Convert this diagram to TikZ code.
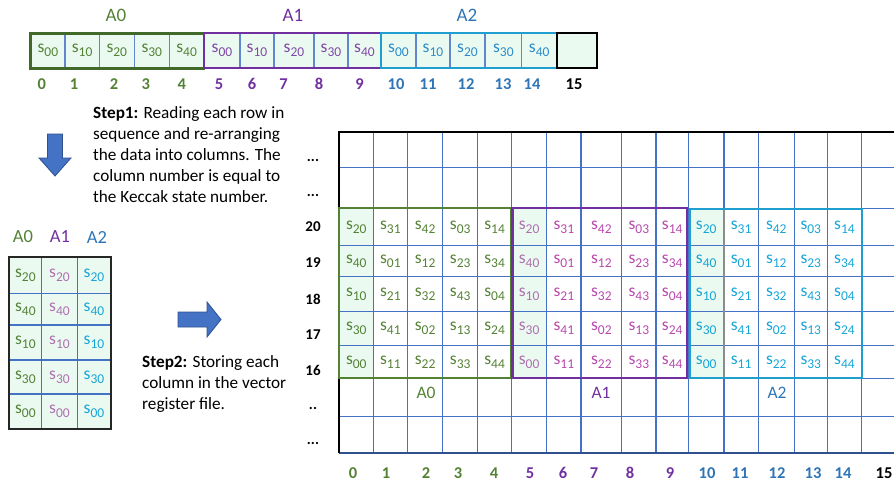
\documentclass[tikz,border=0pt]{standalone}
\usepackage{fontspec}
\setmainfont{Carlito}

\definecolor{agreen}{HTML}{548235}
\definecolor{agreenB}{HTML}{40692A}
\definecolor{apurple}{HTML}{7030A0}
\definecolor{amag}{HTML}{B848AE}
\definecolor{alilac}{HTML}{AE70AE}
\definecolor{tpurple}{HTML}{8048A8}
\definecolor{acyan}{HTML}{17A5D8}
\definecolor{tblue}{HTML}{2B8CCB}
\definecolor{ablue}{HTML}{2E75B6}
\definecolor{acyanB}{HTML}{1F9FCF}
\definecolor{gridblue}{HTML}{4472C4}
\definecolor{cellfill}{HTML}{EBFAF1}
\definecolor{arrowfill}{HTML}{4472C4}
\definecolor{arrowline}{HTML}{2F528F}

% state word s_{xy}: letter with lowered index
\newcommand\sv[1]{s\raisebox{-3.8pt}{\fontsize{13.5}{14}\selectfont #1}}

\begin{document}
\begin{tikzpicture}[x=1pt,y=-1pt,
  lbl/.style={inner sep=0pt, font=\fontsize{19}{22}\selectfont},
  glbl/.style={inner sep=0pt, font=\fontsize{17.5}{20}\selectfont},
  num/.style={inner sep=0pt, font=\fontsize{16.5}{18}\selectfont\bfseries},
  rnum/.style={inner sep=0pt, font=\fontsize{15}{18}\selectfont\bfseries},
  cellt/.style={inner sep=0pt, font=\fontsize{17.5}{19}\selectfont},
  para/.style={inner sep=0pt, align=left, anchor=north west,
               font=\fontsize{17.2}{21}\selectfont},
  gline/.style={draw=gridblue, line width=1.3pt},
  blockarrow/.style={fill=arrowfill, draw=arrowline, line width=0.8pt}]
\useasboundingbox (0,0) rectangle (894,485);

% ---------------- register row at the top ----------------
\fill[cellfill] (30.7,33.3) rectangle (596.7,68.3);
\foreach \xx in {65,99.3,134.3,169.3,240,274,314,348,416,450,485,521.7}
  \draw[draw=gridblue!85!white, line width=1.2pt] (\xx,33.3) -- (\xx,68.3);
\draw[draw=agreenB, line width=2.5pt] (30.7,33.3) rectangle (204,68.3);
\draw[draw=apurple, line width=2.2pt] (204,33.3) rectangle (381,68.3);
\draw[draw=acyanB, line width=2.2pt] (381,33.3) rectangle (556.7,68.3);
\draw[draw=black, line width=1.8pt] (556.7,33.3) rectangle (596.7,68.3);

\foreach \i/\a/\b/\v/\col in {0/30.7/65/00/agreen,1/65/99.3/10/agreen,2/99.3/134.3/20/agreen,
    3/134.3/169.3/30/agreen,4/169.3/204/40/agreen,
    5/204/240/00/tpurple,6/240/274/10/tpurple,7/274/314/20/tpurple,
    8/314/348/30/tpurple,9/348/381/40/tpurple,
    10/381/416/00/tblue,11/416/450/10/tblue,12/450/485/20/tblue,
    13/485/521.7/30/tblue,14/521.7/556.7/40/tblue}{
  \pgfmathsetmacro\xc{(\a+\b)/2}
  \node[cellt, text=\col] (top-\i) at (\xc,50.5) {\sv{\v}};
}

\node[lbl, text=agreen]  (topA0) at (116,15) {A0};
\node[lbl, text=apurple] (topA1) at (293,15) {A1};
\node[lbl, text=ablue]   (topA2) at (467,15) {A2};

\foreach \n/\xx/\col in {0/41.7/agreen,1/74/agreen,2/114/agreen,3/145.7/agreen,4/181.7/agreen,
    5/219/apurple,6/252/apurple,7/283.5/apurple,8/319/apurple,9/359.6/apurple,
    10/396/ablue,11/428/ablue,12/466/ablue,13/503/ablue,14/532/ablue,15/574/black}
  \node[num, text=\col] (tnum-\n) at (\xx,84) {\n};

% ---------------- step 1: arrow and text ----------------
\draw[blockarrow] (47.5,134) -- (62.5,134) -- (62.5,158) -- (71,158) -- (55,176)
  -- (39,158) -- (47.5,158) -- cycle;
\node[para] (step1) at (93,106) {\textbf{Step1:} Reading each row in\\
  sequence and re-arranging\\the data into columns. The\\
  column number is equal to\\the Keccak state number.};

% ---------------- small column table ----------------
\fill[cellfill] (9,256.7) rectangle (110.7,429);
\foreach \y in {293.3,325,360,394} \draw[gline] (9,\y) -- (110.7,\y);
\foreach \x in {41.7,77.3} \draw[gline] (\x,256.7) -- (\x,429);
\draw[draw=black!85, line width=1.8pt] (9,256.7) rectangle (110.7,429);

\node[lbl, text=agreen, font=\fontsize{18.5}{20}\selectfont]  (lA0) at (23,237) {A0};
\node[lbl, text=apurple, font=\fontsize{18.5}{20}\selectfont] (lA1) at (60,237) {A1};
\node[lbl, text=ablue, font=\fontsize{18.5}{20}\selectfont]   (lA2) at (97,237) {A2};

\foreach \c/\a/\b/\col in {0/9/41.7/agreen,1/41.7/77.3/alilac,2/77.3/110.7/acyan}
  \foreach \r/\ya/\yb/\v in {0/256.7/293.3/20,1/293.3/325/40,2/325/360/10,
      3/360/394/30,4/394/429/00}{
    \pgfmathsetmacro\xc{(\a+\b)/2}
    \pgfmathsetmacro\yc{(\ya+\yb)/2}
    \node[cellt, text=\col] (lt-\c-\r) at (\xc,\yc) {\sv{\v}};
  }

% ---------------- step 2: arrow and text ----------------
\draw[blockarrow] (178,312) -- (207,312) -- (207,302) -- (221,319.5) -- (207,337)
  -- (207,327) -- (178,327) -- cycle;
\node[para] (step2) at (142,355) {\textbf{Step2:} Storing each\\
  column in the vector\\register file.};

% ---------------- vector register file ----------------
% shaded first column of each state block
\foreach \a/\b in {339.3/373.3,511.5/546.7,688.5/724}
  \fill[cellfill] (\a,208.3) rectangle (\b,378.3);

\foreach \y in {167.7,208.3,245.5,276.7,311.7,345.5,378.3,416.7}
  \draw[gline] (339.3,\y) -- (894,\y);
\foreach \x in {373.3,407.5,442.7,477.7,511.5,546.7,581,621.7,656,688.5,724,758.3,794.3,827.3,861.7}
  \draw[gline] (\x,132.3) -- (\x,452.7);
\draw[draw=arrowline, line width=2pt] (339.3,452.7) -- (894,452.7);
\draw[draw=black, line width=1.8pt] (894,132.3) -- (339.3,132.3) -- (339.3,452.7);

\draw[draw=black!45, line width=1.4pt] (724,209.3) -- (724,378.3);
\draw[draw=agreen, line width=2.2pt] (339.3,208.3) rectangle (511,378.3);
\draw[draw=apurple, line width=2.2pt] (512.5,208.3) rectangle (686.7,378.3);
\draw[draw=acyanB, line width=2.2pt] (690,209.3) rectangle (861.7,378.3);

% cell contents: rows 20..16, five lanes per block
\foreach \r/\ya/\yb/\va/\vb/\vc/\vd/\ve in {0/208.3/245.5/20/31/42/03/14,
    1/245.5/276.7/40/01/12/23/34,2/276.7/311.7/10/21/32/43/04,
    3/311.7/345.5/30/41/02/13/24,4/345.5/378.3/00/11/22/33/44}
  \foreach \c/\a/\b/\k/\tc in {0/339.3/373.3/0/agreen,1/373.3/407.5/1/agreen,
      2/407.5/442.7/2/agreen,3/442.7/477.7/3/agreen,4/477.7/511.5/4/agreen,
      5/511.5/546.7/0/alilac,6/546.7/581/1/amag,7/581/621.7/2/amag,
      8/621.7/656/3/amag,9/656/688.5/4/amag,
      10/688.5/724/0/acyan,11/724/758.3/1/acyan,12/758.3/794.3/2/acyan,
      13/794.3/827.3/3/acyan,14/827.3/861.7/4/acyan}{
    \pgfmathsetmacro\xc{(\a+\b)/2}
    \pgfmathsetmacro\yc{(\ya+\yb)/2}
    \node[cellt, text=\tc] (g-\c-\r) at (\xc,\yc)
      {\sv{\ifcase\k\relax\va\or\vb\or\vc\or\vd\or\ve\fi}};
  }

\node[glbl, text=agreen]  (gA0) at (426,393) {A0};
\node[glbl, text=apurple] (gA1) at (601,393) {A1};
\node[glbl, text=ablue]   (gA2) at (777,393) {A2};

% register indices on the left
\node[rnum, anchor=base] (rdot-0) at (313,161) {...};
\node[rnum, anchor=base] (rdot-1) at (313,196) {...};
\node[rnum, anchor=base] (rdot-7) at (313,409) {..};
\node[rnum, anchor=base] (rdot-8) at (313,444) {...};
\foreach \t/\yy in {20/227,19/263,18/299,17/335,16/370}
  \node[rnum] (rnum-\t) at (313,\yy) {\t};

% lane numbers along the bottom
\foreach \n/\xx/\col in {0/353/agreen,1/386/agreen,2/426/agreen,3/458/agreen,4/494/agreen,
    5/530/apurple,6/563/apurple,7/594/apurple,8/630/apurple,9/670/apurple,
    10/707/ablue,11/740/ablue,12/777/ablue,13/813/ablue,14/843/ablue,15/884/black}
  \node[num, text=\col] (gnum-\n) at (\xx,473) {\n};
\end{tikzpicture}
\end{document}
